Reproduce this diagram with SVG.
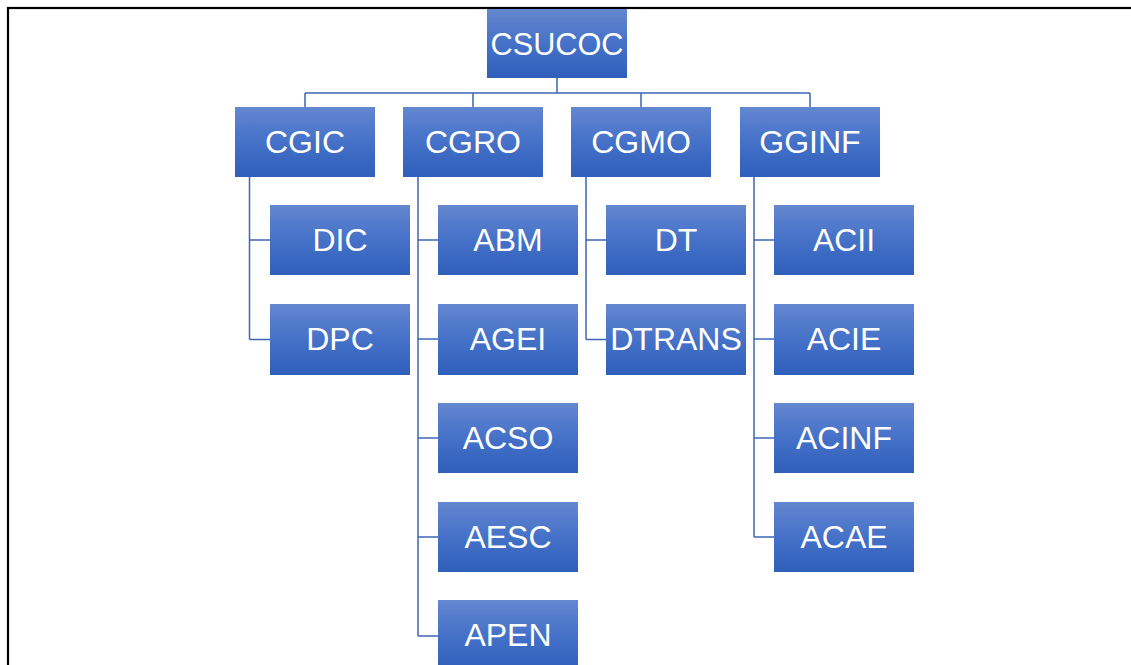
<svg xmlns="http://www.w3.org/2000/svg" width="1131" height="665" viewBox="0 0 1131 665">
<defs>
<linearGradient id="g" x1="0" y1="0" x2="0" y2="1">
<stop offset="0" stop-color="#6487d0"/>
<stop offset="0.5" stop-color="#4571c8"/>
<stop offset="1" stop-color="#2f5fba"/>
</linearGradient>
<style>
.b{fill:url(#g);}
.t{fill:#fff;font-family:"Liberation Sans",Arial,sans-serif;font-size:32px;text-anchor:middle;dominant-baseline:central;}
.c{fill:none;stroke:#3f66b8;stroke-width:1.5;}
</style>
</defs>
<rect x="0" y="0" width="1131" height="665" fill="#fff"/>
<rect x="8" y="8" width="1140" height="700" fill="none" stroke="#000" stroke-width="2.2"/>
<g id="connectors" class="c">
<path d="M557 78V93M305 93H810M305 93V107M473 93V107M641 93V107M810 93V107"/>
<path d="M249.5 177V339.5M249.5 240H270M249.5 339.5H270"/>
<path d="M418 177V636M418 240H438M418 339H438M418 438H438M418 537H438M418 636H438"/>
<path d="M586 177V339.5M586 240H606M586 339.5H606"/>
<path d="M754 177V537M754 240H774M754 339H774M754 438H774M754 537H774"/>
</g>
<g id="n-csucoc"><rect class="b" x="487" y="9" width="140" height="69"/><text class="t" x="557" y="44" textLength="133" lengthAdjust="spacingAndGlyphs">CSUCOC</text></g>
<g id="n-cgic"><rect class="b" x="235" y="107" width="140" height="70"/><text class="t" x="305" y="142">CGIC</text></g>
<g id="n-cgro"><rect class="b" x="403" y="107" width="140" height="70"/><text class="t" x="473" y="142">CGRO</text></g>
<g id="n-cgmo"><rect class="b" x="571" y="107" width="140" height="70"/><text class="t" x="641" y="142">CGMO</text></g>
<g id="n-gginf"><rect class="b" x="740" y="107" width="140" height="70"/><text class="t" x="810" y="142">GGINF</text></g>
<g id="n-dic"><rect class="b" x="270" y="205" width="140" height="70"/><text class="t" x="340" y="240">DIC</text></g>
<g id="n-dpc"><rect class="b" x="270" y="304" width="140" height="71"/><text class="t" x="340" y="339">DPC</text></g>
<g id="n-abm"><rect class="b" x="438" y="205" width="140" height="70"/><text class="t" x="508" y="240">ABM</text></g>
<g id="n-agei"><rect class="b" x="438" y="304" width="140" height="71"/><text class="t" x="508" y="339">AGEI</text></g>
<g id="n-acso"><rect class="b" x="438" y="403" width="140" height="70"/><text class="t" x="508" y="438">ACSO</text></g>
<g id="n-aesc"><rect class="b" x="438" y="502" width="140" height="70"/><text class="t" x="508" y="537">AESC</text></g>
<g id="n-apen"><rect class="b" x="438" y="600" width="140" height="70"/><text class="t" x="508" y="635">APEN</text></g>
<g id="n-dt"><rect class="b" x="606" y="205" width="140" height="70"/><text class="t" x="676" y="240">DT</text></g>
<g id="n-dtrans"><rect class="b" x="606" y="304" width="140" height="71"/><text class="t" x="676" y="339">DTRANS</text></g>
<g id="n-acii"><rect class="b" x="774" y="205" width="140" height="70"/><text class="t" x="844" y="240">ACII</text></g>
<g id="n-acie"><rect class="b" x="774" y="304" width="140" height="71"/><text class="t" x="844" y="339">ACIE</text></g>
<g id="n-acinf"><rect class="b" x="774" y="403" width="140" height="70"/><text class="t" x="844" y="438">ACINF</text></g>
<g id="n-acae"><rect class="b" x="774" y="502" width="140" height="70"/><text class="t" x="844" y="537">ACAE</text></g>
</svg>
